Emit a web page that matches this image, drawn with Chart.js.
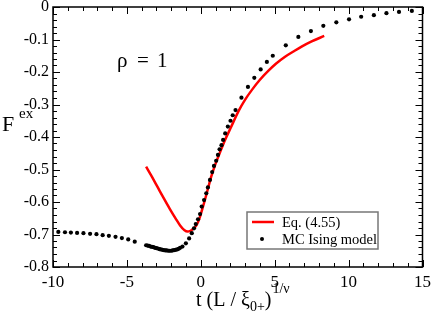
<!DOCTYPE html>
<html>
<head>
<meta charset="utf-8">
<script src="https://cdn.jsdelivr.net/npm/chart.js@4.4.1/dist/chart.umd.min.js"></script>
<style>
html,body{margin:0;padding:0;background:#fff;}
#wrap{width:436px;height:318px;}
</style>
</head>
<body>
<div id="wrap"><canvas id="c" width="436" height="318"></canvas></div>
<script>
// ---- data ----
const eqT = [-3.7,-3.3,-2.9,-2.5,-2.1,-1.7,-1.4,-1.1,-0.9,-0.7,-0.5,-0.3,-0.1,0.1,0.3,0.5,0.7,1.0,1.3,1.67,2.0,2.57,3.0,3.46,4.0,4.58,5.1,5.7,6.3,6.82,7.5,8.35];
const eqF = [-0.491,-0.523,-0.556,-0.589,-0.621,-0.651,-0.672,-0.687,-0.691,-0.689,-0.682,-0.672,-0.652,-0.622,-0.590,-0.556,-0.523,-0.482,-0.447,-0.406,-0.374,-0.319,-0.285,-0.255,-0.224,-0.196,-0.174,-0.153,-0.136,-0.122,-0.106,-0.089];

const mcT = [-9.64,-9.19,-8.79,-8.37,-7.94,-7.49,-7.06,-6.64,-6.22,-5.77,-5.34,-4.91,-4.47,
  -3.7,-3.6,-3.5,-3.4,-3.3,-3.2,-3.1,-3.0,-2.9,-2.8,-2.7,-2.6,-2.5,-2.4,-2.3,-2.2,-2.1,-2.0,-1.9,-1.8,-1.7,-1.6,-1.5,-1.4,
  -1.24,-1.01,-0.79,-0.61,-0.46,-0.34,-0.19,-0.05,0.06,0.22,0.37,0.48,0.62,0.77,0.89,1.04,1.16,1.27,1.40,1.51,1.65,1.83,2.01,2.16,2.35,
  2.75,3.19,3.62,4.05,4.47,4.87,5.75,6.60,7.45,8.29,9.17,10.03,10.85,11.71,12.56,13.41,14.28];
const mcF = [-0.692,-0.693,-0.694,-0.695,-0.696,-0.698,-0.699,-0.702,-0.704,-0.707,-0.711,-0.715,-0.722,
  -0.733,-0.734,-0.735,-0.737,-0.738,-0.739,-0.741,-0.742,-0.743,-0.745,-0.746,-0.747,-0.748,-0.749,-0.749,-0.750,-0.750,-0.750,-0.749,-0.748,-0.747,-0.746,-0.744,-0.741,
  -0.737,-0.727,-0.712,-0.696,-0.681,-0.668,-0.653,-0.637,-0.614,-0.594,-0.573,-0.555,-0.532,-0.508,-0.489,-0.473,-0.455,-0.438,-0.425,-0.409,-0.389,-0.368,-0.350,-0.333,-0.317,
  -0.279,-0.246,-0.218,-0.192,-0.169,-0.150,-0.118,-0.092,-0.074,-0.058,-0.047,-0.038,-0.030,-0.025,-0.019,-0.015,-0.012];

const xTicks = [-10,-5,0,5,10,15];
const yTicks = [0,-0.1,-0.2,-0.3,-0.4,-0.5,-0.6,-0.7,-0.8];
const seriesNames = ['Eq. (4.55)','MC Ising model'];

const SERIF = '"Liberation Serif", "Times New Roman", Times, serif';

const framePlugin = {
  id:'frame',
  afterDraw(chart){
    const ctx = chart.ctx, a = chart.chartArea;
    const xs = chart.scales.x, ys = chart.scales.y;
    ctx.save();
    ctx.strokeStyle = '#000';
    ctx.lineWidth = 1;
    for (let v = -10; v <= 15; v++) {
      const px = Math.round(xs.getPixelForValue(v)) + 0.5;
      const len = (v % 5 === 0) ? 7 : 4;
      ctx.beginPath();
      ctx.moveTo(px, a.bottom); ctx.lineTo(px, a.bottom - len);
      ctx.moveTo(px, a.top); ctx.lineTo(px, a.top + len);
      ctx.stroke();
    }
    for (let k = 0; k <= 40; k++) {
      const v = -k * 0.02;
      const py = Math.round(ys.getPixelForValue(v)) + 0.5;
      const len = (k % 5 === 0) ? 7 : 4;
      ctx.beginPath();
      ctx.moveTo(a.left, py); ctx.lineTo(a.left + len, py);
      ctx.moveTo(a.right, py); ctx.lineTo(a.right - len, py);
      ctx.stroke();
    }
    ctx.lineWidth = 1.5;
    ctx.strokeRect(a.left, a.top, a.right - a.left, a.bottom - a.top);

    ctx.fillStyle = '#000';
    ctx.textBaseline = 'alphabetic';
    ctx.textAlign = 'left';
    // annotation rho = 1
    ctx.font = '21px ' + SERIF;
    ctx.fillText('ρ', 117, 67);
    ctx.fillText('=', 137, 67);
    ctx.fillText('1', 157, 67);

    // y title F^ex
    ctx.font = '22px ' + SERIF;
    ctx.fillText('F', 2, 131);
    ctx.font = '15px ' + SERIF;
    ctx.fillText('ex', 19, 118);

    // x title t (L / xi_0+)^(1/nu)
    let x = 196, base = 306;
    ctx.font = '20px ' + SERIF;
    const p1 = 't (L / ξ';
    ctx.fillText(p1, x, base); x += ctx.measureText(p1).width;
    ctx.font = '14px ' + SERIF;
    ctx.fillText('0+', x, base + 5); x += ctx.measureText('0+').width;
    ctx.font = '20px ' + SERIF;
    ctx.fillText(')', x, base); x += ctx.measureText(')').width + 1;
    ctx.font = '14px ' + SERIF;
    ctx.fillText('1/ν', x, base - 13);

    // legend
    const ds = chart.data.datasets;
    ctx.lineWidth = 1.5;
    ctx.strokeStyle = '#777';
    ctx.strokeRect(247, 212, 131, 37);
    ctx.strokeStyle = ds[0].borderColor;
    ctx.lineWidth = 2.5;
    ctx.beginPath(); ctx.moveTo(252, 222); ctx.lineTo(274, 222); ctx.stroke();
    ctx.fillStyle = ds[1].backgroundColor;
    ctx.beginPath(); ctx.arc(262, 239, 2, 0, Math.PI*2); ctx.fill();
    ctx.fillStyle = '#000';
    ctx.font = '14.5px ' + SERIF;
    ctx.fillText(ds[0].label, 282, 227);
    ctx.fillText(ds[1].label, 282, 244);
    ctx.restore();
  }
};

function draw(){
new Chart(document.getElementById('c'), {
  type:'scatter',
  data:{
    datasets:[
      { label:seriesNames[0], data:eqT.map((t,i)=>({x:t,y:eqF[i]})), showLine:true, borderColor:'#ff0000', backgroundColor:'#ff0000', borderWidth:2.5, pointRadius:0, cubicInterpolationMode:'monotone', order:1 },
      { label:seriesNames[1], data:mcT.map((t,i)=>({x:t,y:mcF[i]})), showLine:false, borderColor:'#000', backgroundColor:'#000', pointRadius:2.1, pointBorderWidth:0, order:0 }
    ]
  },
  options:{
    responsive:false,
    animation:false,
    devicePixelRatio:1,
    layout:{padding:{top:0,right:11,left:0,bottom:0}},
    plugins:{legend:{display:false},tooltip:{enabled:false}},
    scales:{
      x:{
        type:'linear', min:-10, max:15,
        afterBuildTicks(s){ s.ticks = xTicks.map(v=>({value:v})); },
        afterFit(s){ s.height = 51; },
        grid:{display:false, drawTicks:false},
        border:{display:false},
        ticks:{ padding:5, color:'#000', font:{family:SERIF, size:17}, callback:v=>String(v) }
      },
      y:{
        type:'linear', min:-0.8, max:0,
        afterBuildTicks(s){ s.ticks = yTicks.map(v=>({value:v})); },
        afterFit(s){ s.width = 53; },
        grid:{display:false, drawTicks:false},
        border:{display:false},
        ticks:{ padding:4, color:'#000', font:{family:SERIF, size:16, lineHeight:0.375}, callback:v=> (Math.abs(v)<1e-9 ? '0' : Number(v).toFixed(1)) }
      }
    }
  },
  plugins:[framePlugin]
});
}
if (document.fonts && document.fonts.load) {
  Promise.all([document.fonts.load('16px "Liberation Serif"')]).then(draw, draw);
} else draw();
</script>
</body>
</html>
